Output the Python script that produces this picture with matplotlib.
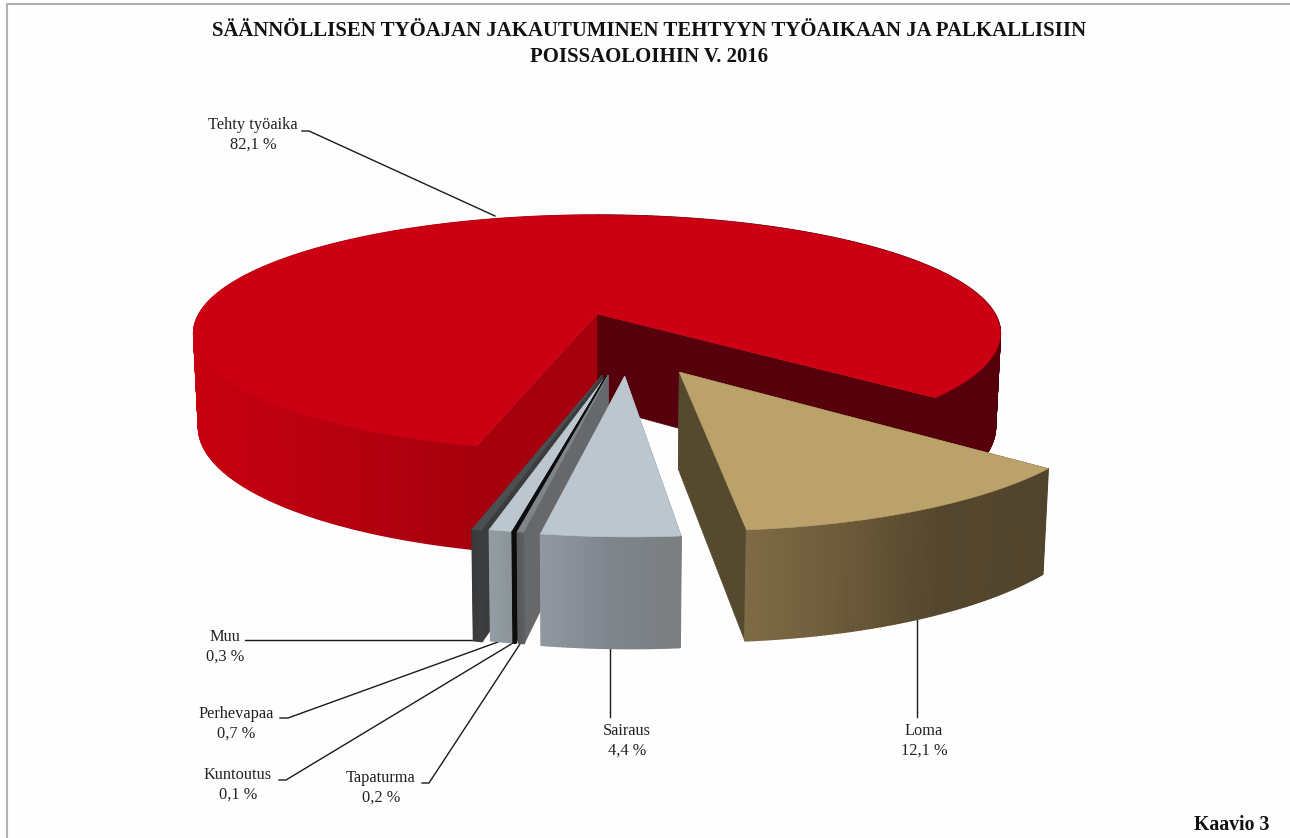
#!/usr/bin/env python
import numpy as np
import matplotlib as mpl
import matplotlib.pyplot as plt
from matplotlib.collections import PolyCollection
from matplotlib.colors import LinearSegmentedColormap
mpl.use("Agg")

plt.rcParams["font.family"] = ["Liberation Serif", "DejaVu Serif"]

title = "SÄÄNNÖLLISEN TYÖAJAN JAKAUTUMINEN TEHTYYN TYÖAIKAAN JA PALKALLISIIN\nPOISSAOLOIHIN V. 2016"
labels = ["Tehty työaika", "Loma", "Sairaus", "Tapaturma", "Kuntoutus", "Perhevapaa", "Muu"]
values = [82.1, 12.1, 4.4, 0.2, 0.1, 0.7, 0.3]

# perspective of the disc, fitted on the picture
cx, cy = 597.0, 314.0
A, B, k = 398.0, 115.1, 0.163
start = 50.2

# slice look: offset of apex (plane units), turn (deg), radius, top, left face, right face, wall colours
look = {
    "Tehty työaika": ((0.0, 0.0), -0.8, 1.0, "#cc0013", "#55000a", "#a5000e",
                      [(0, "#c6000f"), (0.1, "#bd0010"), (0.2, "#b4000f"), (0.35, "#a6000d"),
                       (0.499, "#a0000c"), (0.5, "#55000a"), (1, "#55000a")]),
    "Loma": ((0.191, 0.466), -0.9, 0.975, "#bba26b", "#554a2f", "#554a2f",
             [(0, "#7f6b46"), (0.3, "#6e5c3b"), (0.65, "#54472e"), (1, "#51442c")]),
    "Sairaus": ((0.064, 0.495), -0.9, 0.977, "#bcc6ce", "#8f969d", "#7a7e80",
                [(0, "#91989f"), (0.5, "#7f858c"), (1, "#7a7e80")]),
    "Tapaturma": ((0.026, 0.488), -0.6, 0.975, "#7f8487", "#7f8487", "#66686a",
                  [(0, "#55575a"), (1, "#5e6062")]),
    "Kuntoutus": ((0.022, 0.488), -0.6, 0.975, "#0c0c0c", "#0c0c0c", "#0c0c0c",
                  [(0, "#0c0c0c"), (1, "#0c0c0c")]),
    "Perhevapaa": ((0.023, 0.488), -0.8, 0.975, "#bcc6ce", "#8e979d", "#8e979d",
                   [(0, "#949da3"), (1, "#8b9499")]),
    "Muu": ((0.012, 0.488), -1.0, 0.98, "#4c4f50", "#3a3c3d", "#3a3c3d",
            [(0, "#38393a"), (1, "#3d3f40")]),
}


def project(X, Y):
    w = 1 - k * Y
    return cx + A * X / w, cy + B * Y / w, 1 / w


def top_xy(X, Y):
    x, y, s = project(X, Y)
    return np.column_stack([x, y])


def bottom_xy(X, Y):
    x, y, s = project(X, Y)
    return np.column_stack([cx + (x - cx) * 0.988, y + 92 + 62.5 * (s - 1)])


def draw_slice(ax, name, a0, a1):
    (ox, oy), turn, r, c_top, c_left, c_right, stops = look[name]
    th = np.radians(np.linspace(a0 + turn, a1 + turn, max(int((a1 - a0) * 2), 4) + 1))
    X = ox + r * np.sin(th)
    Y = oy + r * np.cos(th)
    t = top_xy(X, Y)
    b = bottom_xy(X, Y)
    ap_t = top_xy(np.array([ox]), np.array([oy]))
    ap_b = bottom_xy(np.array([ox]), np.array([oy]))

    # cut faces
    ax.fill(*np.vstack([ap_t, t[0], b[0], ap_b]).T, color=c_left, lw=0.4, zorder=1)
    ax.fill(*np.vstack([ap_t, t[-1], b[-1], ap_b]).T, color=c_right, lw=0.4, zorder=1)

    # outer wall as thin vertical strips, shaded by x
    cmap = LinearSegmentedColormap.from_list(name, stops)
    lo, hi = min(t[:, 0].min(), b[:, 0].min()), max(t[:, 0].max(), b[:, 0].max())
    quads, cols = [], []
    for i in range(len(th) - 1):
        quads.append([t[i], t[i + 1], b[i + 1], b[i]])
        cols.append(cmap((0.5 * (t[i, 0] + t[i + 1, 0]) - lo) / max(hi - lo, 1)))
    ax.add_collection(PolyCollection(quads, facecolors=cols, edgecolors=cols, linewidths=1.0, zorder=1))

    # top
    ax.fill(*np.vstack([ap_t, t]).T, color=c_top, lw=0.4, zorder=1)


fig = plt.figure(figsize=(12.9, 8.38), dpi=100, facecolor="#fefefe")
ax = fig.add_axes([0, 0, 1, 1])
ax.set_xlim(0, 1290)
ax.set_ylim(838, 0)
ax.axis("off")

# angles from the values, red goes round the back, the others run clockwise from its end
shares = [v / sum(values) * 360 for v in values]
draw_slice(ax, labels[0], start, start + shares[0])
spans = {}
cur = start
for name, sh in zip(labels[1:], shares[1:]):
    spans[name] = (cur - sh, cur)
    cur -= sh
for name in labels[:0:-1]:
    draw_slice(ax, name, *spans[name])

# frame
ax.plot([6.5, 6.5, 1290], [838, 4, 4], color="#b0b0b0", lw=1.5, zorder=0)

ax.text(649, 44, title, ha="center", va="center", fontsize=14.95, fontweight="bold",
        color="#111111", linespacing=1.35)
ax.text(1269, 825, "Kaavio 3", ha="right", va="center", fontsize=14.2, fontweight="bold", color="#111111")

# label text position, leader points
label_pos = {
    "Tehty työaika": (253, 135),
    "Loma": (924, 741),
    "Sairaus": (627, 741),
    "Tapaturma": (381, 788),
    "Kuntoutus": (238, 785),
    "Perhevapaa": (236, 724),
    "Muu": (225, 647),
}
leaders = {
    "Tehty työaika": [(302, 131), (309, 131), (495, 216)],
    "Loma": [(917, 618), (917, 717)],
    "Sairaus": [(610, 648), (610, 717)],
    "Tapaturma": [(422, 783), (429, 783), (520, 644)],
    "Kuntoutus": [(279, 780), (286, 780), (513, 643)],
    "Perhevapaa": [(280, 718), (288, 718), (498, 642)],
    "Muu": [(245, 640), (473, 640)],
}
for name, v in zip(labels, values):
    x, y = label_pos[name]
    ax.text(x, y, name + "\n" + f"{v:.1f}".replace(".", ",") + " %", ha="center", va="center",
            fontsize=11.8, color="#222222", linespacing=1.35)
    ax.plot(*zip(*leaders[name]), color="#1a1a1a", lw=1.0, zorder=0.5)

fig.savefig("out.png", dpi=100, facecolor=fig.get_facecolor())
